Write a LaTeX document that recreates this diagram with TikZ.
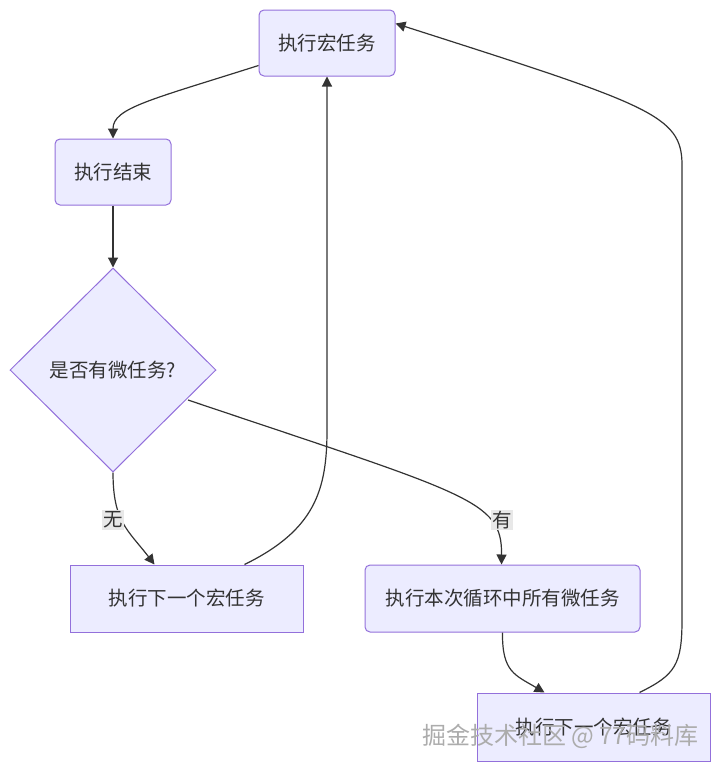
\documentclass[tikz,border=0pt]{standalone}
\usepackage{fontspec}
\newfontfamily\cjk{Noto Sans CJK SC}
\usetikzlibrary{arrows.meta,shapes.geometric,calc}
\definecolor{nodefill}{HTML}{ECECFF}
\definecolor{nodeline}{HTML}{9370DB}
\definecolor{txt}{HTML}{333333}
\definecolor{edge}{HTML}{333333}
\definecolor{lblbg}{HTML}{E8E8E8}
\tikzset{
  box/.style={draw=nodeline, fill=nodefill, line width=1pt, text=txt, font=\cjk\fontsize{19.5}{23}\selectfont, inner sep=0pt},
  rbox/.style={box, rounded corners=5pt},
  dia/.style={box, diamond, minimum width=206pt, minimum height=204pt},
  link/.style={draw=edge, line width=1.2pt, -{Triangle[length=10pt,width=10pt]}},
  lbl/.style={fill=lblbg, text=txt, font=\cjk\fontsize{19.5}{23}\selectfont, inner sep=1.5pt},
  wm/.style={text=gray!65, font=\cjk\fontsize{24}{28}\selectfont, inner sep=0pt}
}
\begin{document}
\begin{tikzpicture}[x=1pt,y=1pt]
\useasboundingbox (0,0) rectangle (720,-771);
\node[rbox, minimum width=136pt, minimum height=66pt] (t) at (327,-43) {执行宏任务};
\node[rbox, minimum width=116pt, minimum height=66pt] (e) at (113,-172) {执行结束};
\node[dia] (d) at (113,-370) {是否有微任务?};
\node[box, minimum width=233pt, minimum height=67pt] (a) at (186.5,-598.5) {执行下一个宏任务};
\node[rbox, minimum width=275pt, minimum height=67pt] (b) at (502.5,-598.5) {执行本次循环中所有微任务};
\node[box, minimum width=233pt, minimum height=68pt] (c) at (593.5,-727) {执行下一个宏任务};

\coordinate (t1) at ($(t.south west)+(0,11)$);
\coordinate (t2) at ($(t.north east)+(0,-14)$);
\coordinate (a1) at ($(a.north west)+(175,0)$);
\coordinate (a2) at ($(a.north west)+(85,0)$);
\coordinate (b1) at ($(b.north west)+(137,0)$);
\coordinate (c1) at ($(c.north west)+(68,0)$);
\coordinate (c2) at ($(c.north west)+(163,0)$);
\coordinate (d1) at (188,-400);

\draw[link] (t1) .. controls (150,-100) and (113,-108) .. (e.north);
\draw[link] (e.south) -- (d.north);
\draw[link] (d.south) .. controls (113,-522) and (128,-530) .. (a2);
\path (113,-520) node[lbl] (l1) {无};
\draw[link] (d1) .. controls (470,-495) and (502,-500) .. (b1);
\path (502,-520) node[lbl] (l2) {有};
\draw[link] (a1) .. controls (315,-530) and (327,-490) .. (327,-430) -- (t.south);
\draw[link] (b.south) .. controls (502,-672) and (515,-675) .. (c1);
\draw[link] (c2) .. controls (675,-675) and (682,-665) .. (682,-620) -- (682,-165) .. controls (682,-115) and (650,-105) .. (t2);

\node[wm, anchor=west] (w) at (422,-736) {掘金技术社区 @ 77码料库};
\end{tikzpicture}
\end{document}
